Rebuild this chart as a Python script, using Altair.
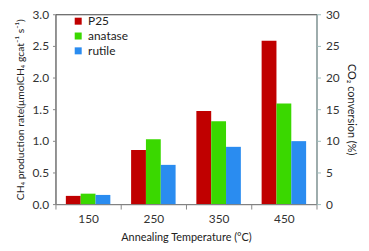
import altair as alt
import pandas as pd

temps = ["150", "250", "350", "450"]
series = ["P25", "anatase", "rutile"]
p25 = [0.13, 0.855, 1.47, 2.58]
anatase = [0.165, 1.025, 1.31, 1.59]
rutile = [0.145, 0.62, 0.905, 0.995]
colors = ["#c00000", "#3ad800", "#2a8cf0"]
co2_domain = [0, 30]

rows = []
for name, vals in zip(series, [p25, anatase, rutile]):
    for t, v in zip(temps, vals):
        rows.append({"temp": t, "series": name, "rate": v})
df = pd.DataFrame(rows)

FONT = "Lato"

bars = alt.Chart(df).mark_bar().encode(
    x=alt.X("temp:N", sort=temps,
            scale=alt.Scale(paddingInner=0, paddingOuter=0),
            axis=alt.Axis(title="Annealing Temperature (°C)", labelAngle=0,
                          tickBand="extent", labelPadding=5, titlePadding=7)),
    xOffset=alt.XOffset("series:N", sort=series,
                        scale=alt.Scale(paddingInner=0, paddingOuter=0.7)),
    y=alt.Y("rate:Q", scale=alt.Scale(domain=[0, 3.0], nice=False),
            axis=alt.Axis(title="CH₄ production rate(μmolCH₄ gcat⁻¹ s⁻¹)",
                          values=[0, 0.5, 1.0, 1.5, 2.0, 2.5, 3.0], format=".1f",
                          labelPadding=4, titlePadding=7, grid=False, tickSize=3,
                          titleFontSize=10.5)),
    color=alt.Color("series:N", sort=series,
                    scale=alt.Scale(domain=series, range=colors),
                    legend=alt.Legend(title=None, orient="none", legendX=17, legendY=1,
                                      symbolType="square", symbolSize=50,
                                      labelFontSize=12, rowPadding=3, symbolStrokeWidth=0)),
)

right = alt.Chart(pd.DataFrame({"v": co2_domain})).mark_point(opacity=0).encode(
    y=alt.Y("v:Q", scale=alt.Scale(domain=co2_domain, nice=False),
            axis=alt.Axis(orient="right", title="CO₂ conversion (%)",
                          values=[0, 5, 10, 15, 20, 25, 30],
                          domainColor="#9cbaba", tickColor="#9cbaba", tickSize=4,
                          labelPadding=5, titlePadding=6, titleAngle=90, grid=False)),
)

chart = alt.layer(bars, right).resolve_scale(y="independent").properties(
    width=264, height=192,
    autosize=alt.AutoSizeParams(type="none"),
    padding={"left": 48, "top": 5, "right": 45, "bottom": 38},
).configure_view(stroke="#404040", strokeWidth=1).configure_axis(
    labelFont=FONT, titleFont=FONT, labelFontSize=12, titleFontSize=11,
    labelColor="#333333", titleColor="#222222", titleFontWeight="normal",
    domainColor="#888888", tickColor="#888888", tickSize=5, grid=False
).configure_legend(labelFont=FONT, labelColor="#222222")

chart.save("out.html", embed_options={"renderer": "svg", "actions": False})
